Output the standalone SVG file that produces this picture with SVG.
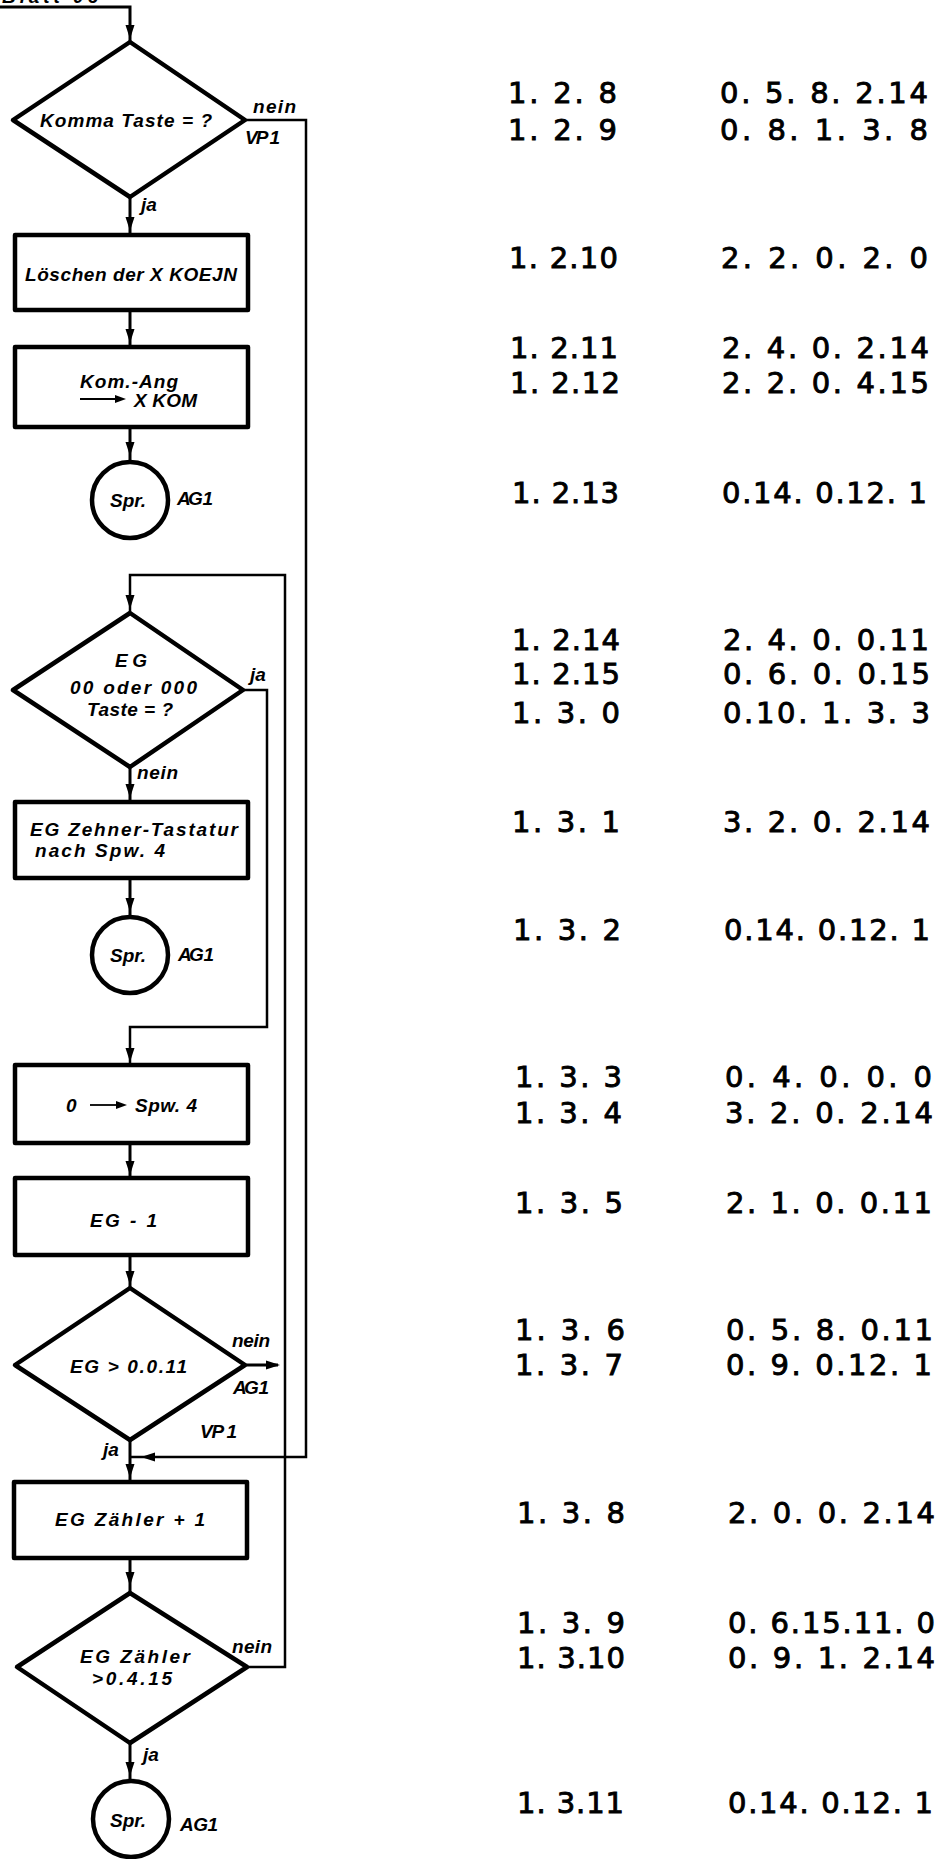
<svg xmlns="http://www.w3.org/2000/svg" xmlns:xlink="http://www.w3.org/1999/xlink" width="941" height="1859" viewBox="0 0 941 1859">
<style>
.shape{fill:none;stroke:#000;stroke-width:4.5;stroke-linejoin:round}
.conn{fill:none;stroke:#000;stroke-width:3}
.loop{fill:none;stroke:#000;stroke-width:2.5}
.lbl{font-family:"Liberation Sans",Arial,sans-serif;font-style:italic;font-weight:bold;font-size:19px;fill:#000}
.ctr{text-anchor:middle}
.num{font-family:"DejaVu Sans","Liberation Sans",sans-serif;font-size:29px;fill:#000;stroke:#000;stroke-width:0.9}
</style>
<defs>
<path id="ah" d="M0,0 L-4.5,-14 L4.5,-14 Z" fill="#000"/>
</defs>
<rect width="941" height="1859" fill="#fff"/>
<text class="lbl" x="2" y="3" font-size="20" textLength="96" lengthAdjust="spacing">Blatt 06</text>

<g id="connectors">
<path class="conn" d="M0,7 H130 V42"/>
<use xlink:href="#ah" x="130" y="39"/>
<path class="conn" d="M130,197 V235"/>
<use xlink:href="#ah" x="130" y="231"/>
<path class="loop" d="M245,120 H306 V1457 H130"/>
<use xlink:href="#ah" transform="translate(141,1457) rotate(90)"/>
<path class="conn" d="M130,310 V347"/>
<use xlink:href="#ah" x="130" y="343"/>
<path class="conn" d="M130,427 V462"/>
<use xlink:href="#ah" x="130" y="456"/>
<path class="loop" d="M247,1667 H285 V575 H130 V613"/>
<use xlink:href="#ah" x="130" y="609"/>
<path class="conn" d="M130,767 V802"/>
<use xlink:href="#ah" x="130" y="798"/>
<path class="loop" d="M243,690 H267 V1027 H130 V1065"/>
<use xlink:href="#ah" x="130" y="1062"/>
<path class="conn" d="M130,878 V917"/>
<use xlink:href="#ah" x="130" y="912"/>
<path class="conn" d="M130,1143 V1178"/>
<use xlink:href="#ah" x="130" y="1175"/>
<path class="conn" d="M130,1255 V1288"/>
<use xlink:href="#ah" x="130" y="1285"/>
<path class="conn" d="M245,1365 H278"/>
<use xlink:href="#ah" transform="translate(280,1365) rotate(-90)"/>
<path class="conn" d="M130,1440 V1482"/>
<use xlink:href="#ah" x="130" y="1478"/>
<path class="conn" d="M130,1558 V1593"/>
<use xlink:href="#ah" x="130" y="1586"/>
<path class="conn" d="M130,1743 V1780"/>
<use xlink:href="#ah" x="130" y="1776"/>
</g>

<g id="d1">
<polygon class="shape" points="130,42 245,120 130,197 13,120"/>
<text class="lbl" x="40" y="127" textLength="172" lengthAdjust="spacing">Komma Taste = ?</text>
<text class="lbl" x="253" y="113" textLength="43" lengthAdjust="spacing">nein</text>
<text class="lbl" x="245" y="144" textLength="35" lengthAdjust="spacing">VP 1</text>
<text class="lbl" x="141" y="211">ja</text>
</g>

<g id="b1">
<rect class="shape" x="15" y="235" width="233" height="75"/>
<text class="lbl" x="25" y="281" textLength="212" lengthAdjust="spacing">Löschen der X KOEJN</text>
</g>

<g id="b2">
<rect class="shape" x="15" y="347" width="233" height="80"/>
<text class="lbl" x="80" y="388" textLength="98" lengthAdjust="spacing">Kom.-Ang</text>
<path d="M80,399 H118" stroke="#000" stroke-width="1.8"/>
<path d="M126,399 L115,395 L115,403 Z" fill="#000"/>
<text class="lbl" x="134" y="407" textLength="63" lengthAdjust="spacing">X KOM</text>
</g>

<g id="c1">
<circle class="shape" cx="130" cy="500" r="38"/>
<text class="lbl ctr" x="128" y="507">Spr.</text>
<text class="lbl" x="177" y="505" textLength="36" lengthAdjust="spacing">AG 1</text>
</g>

<g id="d2">
<polygon class="shape" points="130,613 243,690 130,767 13,690"/>
<text class="lbl" x="115" y="667" textLength="32" lengthAdjust="spacing">EG</text>
<text class="lbl" x="70" y="694" textLength="127" lengthAdjust="spacing">00 oder 000</text>
<text class="lbl" x="87" y="716" textLength="86" lengthAdjust="spacing">Taste = ?</text>
<text class="lbl" x="250" y="681">ja</text>
<text class="lbl" x="137" y="779" textLength="41" lengthAdjust="spacing">nein</text>
</g>

<g id="b3">
<rect class="shape" x="15" y="802" width="233" height="76"/>
<text class="lbl" x="30" y="836" textLength="208" lengthAdjust="spacing">EG Zehner-Tastatur</text>
<text class="lbl" x="35" y="857" textLength="130" lengthAdjust="spacing">nach Spw. 4</text>
</g>

<g id="c2">
<circle class="shape" cx="130" cy="955" r="38"/>
<text class="lbl ctr" x="128" y="962">Spr.</text>
<text class="lbl" x="178" y="961" textLength="36" lengthAdjust="spacing">AG 1</text>
</g>

<g id="b4">
<rect class="shape" x="15" y="1065" width="233" height="78"/>
<text class="lbl" x="66" y="1112">0</text>
<path d="M90,1105 H118" stroke="#000" stroke-width="1.8"/>
<path d="M127,1105 L116,1101 L116,1109 Z" fill="#000"/>
<text class="lbl" x="135" y="1112" textLength="62" lengthAdjust="spacing">Spw. 4</text>
</g>

<g id="b5">
<rect class="shape" x="15" y="1178" width="233" height="77"/>
<text class="lbl" x="90" y="1227" textLength="67" lengthAdjust="spacing">EG - 1</text>
</g>

<g id="d3">
<polygon class="shape" points="130,1288 245,1365 130,1440 15,1365"/>
<text class="lbl" x="70" y="1373" textLength="117" lengthAdjust="spacing">EG &gt; 0.0.11</text>
<text class="lbl" x="232" y="1347" textLength="38" lengthAdjust="spacing">nein</text>
<text class="lbl" x="233" y="1394" textLength="36" lengthAdjust="spacing">AG 1</text>
<text class="lbl" x="200" y="1438" textLength="37" lengthAdjust="spacing">VP 1</text>
<text class="lbl" x="103" y="1456">ja</text>
</g>

<g id="b6">
<rect class="shape" x="14" y="1482" width="233" height="76"/>
<text class="lbl" x="55" y="1526" textLength="150" lengthAdjust="spacing">EG Zähler + 1</text>
</g>

<g id="d4">
<polygon class="shape" points="130,1593 247,1667 130,1743 17,1667"/>
<text class="lbl" x="80" y="1663" textLength="110" lengthAdjust="spacing">EG Zähler</text>
<text class="lbl" x="92" y="1685" textLength="80" lengthAdjust="spacing">&gt;0.4.15</text>
<text class="lbl" x="232" y="1653" textLength="40" lengthAdjust="spacing">nein</text>
<text class="lbl" x="143" y="1761">ja</text>
</g>

<g id="c3">
<circle class="shape" cx="131" cy="1819" r="38"/>
<text class="lbl ctr" x="128" y="1827">Spr.</text>
<text class="lbl" x="180" y="1831" textLength="38" lengthAdjust="spacing">AG1</text>
</g>

<g id="addresses" class="num">
<text x="508" y="103" textLength="109" lengthAdjust="spacing">1. 2. 8</text>
<text x="720" y="103" textLength="208" lengthAdjust="spacing">0. 5. 8. 2.14</text>
<text x="508" y="140" textLength="109" lengthAdjust="spacing">1. 2. 9</text>
<text x="720" y="140" textLength="208" lengthAdjust="spacing">0. 8. 1. 3. 8</text>
<text x="509" y="268" textLength="109" lengthAdjust="spacing">1. 2.10</text>
<text x="721" y="268" textLength="207" lengthAdjust="spacing">2. 2. 0. 2. 0</text>
<text x="510" y="358" textLength="108" lengthAdjust="spacing">1. 2.11</text>
<text x="722" y="358" textLength="207" lengthAdjust="spacing">2. 4. 0. 2.14</text>
<text x="510" y="393" textLength="110" lengthAdjust="spacing">1. 2.12</text>
<text x="722" y="393" textLength="207" lengthAdjust="spacing">2. 2. 0. 4.15</text>
<text x="512" y="503" textLength="107" lengthAdjust="spacing">1. 2.13</text>
<text x="722" y="503" textLength="205" lengthAdjust="spacing">0.14. 0.12. 1</text>
<text x="512" y="650" textLength="108" lengthAdjust="spacing">1. 2.14</text>
<text x="723" y="650" textLength="206" lengthAdjust="spacing">2. 4. 0. 0.11</text>
<text x="512" y="684" textLength="108" lengthAdjust="spacing">1. 2.15</text>
<text x="723" y="684" textLength="207" lengthAdjust="spacing">0. 6. 0. 0.15</text>
<text x="512" y="723" textLength="108" lengthAdjust="spacing">1. 3. 0</text>
<text x="723" y="723" textLength="207" lengthAdjust="spacing">0.10. 1. 3. 3</text>
<text x="512" y="832" textLength="108" lengthAdjust="spacing">1. 3. 1</text>
<text x="723" y="832" textLength="207" lengthAdjust="spacing">3. 2. 0. 2.14</text>
<text x="513" y="940" textLength="108" lengthAdjust="spacing">1. 3. 2</text>
<text x="724" y="940" textLength="206" lengthAdjust="spacing">0.14. 0.12. 1</text>
<text x="515" y="1087" textLength="107" lengthAdjust="spacing">1. 3. 3</text>
<text x="725" y="1087" textLength="207" lengthAdjust="spacing">0. 4. 0. 0. 0</text>
<text x="515" y="1123" textLength="107" lengthAdjust="spacing">1. 3. 4</text>
<text x="725" y="1123" textLength="208" lengthAdjust="spacing">3. 2. 0. 2.14</text>
<text x="515" y="1213" textLength="108" lengthAdjust="spacing">1. 3. 5</text>
<text x="726" y="1213" textLength="206" lengthAdjust="spacing">2. 1. 0. 0.11</text>
<text x="515" y="1340" textLength="110" lengthAdjust="spacing">1. 3. 6</text>
<text x="726" y="1340" textLength="207" lengthAdjust="spacing">0. 5. 8. 0.11</text>
<text x="515" y="1375" textLength="108" lengthAdjust="spacing">1. 3. 7</text>
<text x="726" y="1375" textLength="206" lengthAdjust="spacing">0. 9. 0.12. 1</text>
<text x="517" y="1523" textLength="108" lengthAdjust="spacing">1. 3. 8</text>
<text x="728" y="1523" textLength="207" lengthAdjust="spacing">2. 0. 0. 2.14</text>
<text x="517" y="1633" textLength="108" lengthAdjust="spacing">1. 3. 9</text>
<text x="728" y="1633" textLength="207" lengthAdjust="spacing">0. 6.15.11. 0</text>
<text x="517" y="1668" textLength="108" lengthAdjust="spacing">1. 3.10</text>
<text x="728" y="1668" textLength="207" lengthAdjust="spacing">0. 9. 1. 2.14</text>
<text x="517" y="1813" textLength="107" lengthAdjust="spacing">1. 3.11</text>
<text x="728" y="1813" textLength="205" lengthAdjust="spacing">0.14. 0.12. 1</text>
</g>
</svg>
